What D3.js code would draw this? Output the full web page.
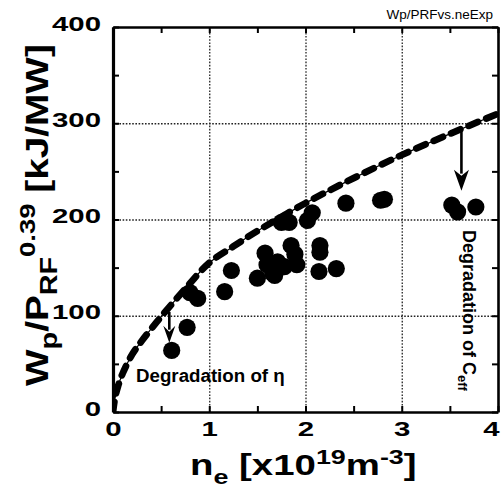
<!DOCTYPE html>
<html>
<head>
<meta charset="utf-8">
<script src="https://cdn.jsdelivr.net/npm/d3@7"></script>
<style>
  html, body { margin: 0; padding: 0; background: #fff; }
  svg { display: block; }
  text { font-family: "Liberation Sans", Arial, Helvetica, sans-serif; }
</style>
</head>
<body>
<svg id="chart" width="502" height="488"></svg>
<script>
// ---- data ----
const xTickValues = [0, 1, 2, 3, 4];
const yTickValues = [0, 100, 200, 300, 400];
const xMinorTicks = [0, 0.5, 1, 1.5, 2, 2.5, 3, 3.5, 4];
const yMinorTicks = [0, 50, 100, 150, 200, 250, 300, 350, 400];

// measured points: n_e [1e19 m^-3] and Wp/P_RF^0.39 [kJ/MW]
const neValues = [0.61, 0.77, 0.80, 0.88, 1.16, 1.23, 1.50, 1.58, 1.60, 1.66, 1.68, 1.71, 1.75, 1.78,
                  1.80, 1.83, 1.85, 1.89, 1.91, 2.02, 2.07, 2.15, 2.15, 2.14, 2.32, 2.42, 2.78, 2.82,
                  3.52, 3.58, 3.77];
const wpValues = [64, 88, 124, 118, 125, 147, 139, 165, 153, 144, 142, 156, 197, 151,
                  199, 197, 173, 164, 153, 199, 207, 173, 166, 146, 149, 217, 220, 221,
                  215, 208, 213];

// dashed reference curve
const fitNe = [0, 0.02, 0.05, 0.1, 0.2, 0.3, 0.5, 0.75, 1, 1.25, 1.5, 2, 2.5, 3, 3.5, 4];
const fitWp = [0, 14, 26, 40, 60, 74, 99, 128, 155, 172, 188, 217, 243, 267, 289, 310];

// arrows (start and end in data units)
const arrowNe = [0.585, 3.62];
const arrowFrom = [104, 295];
const arrowTo = [72, 230];

// ---- layout ----
const svg = d3.select("#chart");
const mLeft = 113, mRight = 498, mTop = 27, mBottom = 412;
const x = d3.scaleLinear().domain([0, 4]).range([mLeft, mRight]);
const y = d3.scaleLinear().domain([0, 400]).range([mBottom, mTop]);

svg.append("rect").attr("width", 502).attr("height", 488).attr("fill", "#fff");

// gridlines
const gridX = svg.append("g").attr("transform", `translate(0,${mBottom})`)
  .call(d3.axisBottom(x).tickValues([1, 2, 3]).tickSize(-(mBottom - mTop)).tickFormat(""));
gridX.select(".domain").remove();
gridX.selectAll("line").attr("stroke", "#222").attr("stroke-width", 1.3).attr("stroke-dasharray", "1.6,1.6");
const gridY = svg.append("g").attr("transform", `translate(${mLeft},0)`)
  .call(d3.axisLeft(y).tickValues([100, 200, 300]).tickSize(-(mRight - mLeft)).tickFormat(""));
gridY.select(".domain").remove();
gridY.selectAll("line").attr("stroke", "#222").attr("stroke-width", 1.3).attr("stroke-dasharray", "1.6,1.6");

// reference curve
const line = d3.line().x((d, i) => x(fitNe[i])).y((d, i) => y(fitWp[i])).curve(d3.curveCatmullRom.alpha(0.5));
svg.append("clipPath").attr("id", "plotclip").append("rect")
  .attr("x", mLeft).attr("y", mTop - 10).attr("width", mRight - mLeft + 4).attr("height", mBottom - mTop + 10);
svg.append("path").datum(fitWp).attr("d", line).attr("fill", "none")
  .attr("stroke", "#000").attr("stroke-width", 1.2).attr("clip-path", "url(#plotclip)");
svg.append("path").datum(fitWp).attr("d", line).attr("fill", "none")
  .attr("stroke", "#000").attr("stroke-width", 6.8).attr("stroke-linecap", "round")
  .attr("stroke-dasharray", "10,9").attr("clip-path", "url(#plotclip)");

// points
svg.append("g").selectAll("circle").data(neValues).join("circle")
  .attr("cx", d => x(d)).attr("cy", (d, i) => y(wpValues[i])).attr("r", 8.6).attr("fill", "#000");

// arrows
arrowNe.forEach((n, i) => {
  const ax = x(n), y0 = y(arrowFrom[i]), y1 = y(arrowTo[i]);
  const hl = i === 0 ? 17 : 21, hw = i === 0 ? 6 : 7.5;
  svg.append("line").attr("x1", ax).attr("x2", ax).attr("y1", y0).attr("y2", y1 - hl + 4)
    .attr("stroke", "#000").attr("stroke-width", 2.6);
  svg.append("path").attr("d", `M${ax},${y1} L${ax - hw},${y1 - hl} L${ax},${y1 - hl + 6} L${ax + hw},${y1 - hl} Z`)
    .attr("fill", "#000");
});

// ticks on all four sides (inward)
function tickAxis(axis, tr) {
  const g = svg.append("g").attr("transform", tr).call(axis);
  g.select(".domain").attr("stroke", "#000").attr("stroke-width", 2.6);
  g.selectAll(".tick line").attr("stroke", "#000").attr("stroke-width", 2);
  return g;
}
tickAxis(d3.axisBottom(x).tickValues(xMinorTicks).tickSizeInner(-6).tickSizeOuter(0).tickFormat(""), `translate(0,${mBottom})`);
tickAxis(d3.axisTop(x).tickValues(xMinorTicks).tickSizeInner(-6).tickSizeOuter(0).tickFormat(""), `translate(0,${mTop})`);
tickAxis(d3.axisRight(y).tickValues(yMinorTicks).tickSizeInner(-6).tickSizeOuter(0).tickFormat(""), `translate(${mRight},0)`);
const lAxis = tickAxis(d3.axisLeft(y).tickValues(yMinorTicks).tickSizeInner(-6).tickSizeOuter(0).tickFormat(""), `translate(${mLeft},0)`);
lAxis.select(".domain").attr("stroke-width", 3.2);

// tick labels
const xl = svg.append("g").attr("transform", `translate(0,${mBottom})`)
  .call(d3.axisBottom(x).tickValues(xTickValues).tickSize(0).tickFormat(d3.format("d")));
xl.select(".domain").remove();
xl.selectAll("text").attr("y", 0).attr("dy", null)
  .attr("transform", d => `translate(${d === 4 ? -7 : 0},24) scale(1.4,1)`)
  .attr("font-size", 21).attr("font-weight", "bold").attr("fill", "#000")
  .attr("font-family", "Liberation Sans, Arial, sans-serif");
const yl = svg.append("g").attr("transform", `translate(${mLeft},0)`)
  .call(d3.axisLeft(y).tickValues(yTickValues).tickSize(0).tickFormat(d3.format("d")));
yl.select(".domain").remove();
yl.selectAll("text").attr("x", 0).attr("dy", null)
  .attr("transform", "translate(-12,3) scale(1.4,1)")
  .attr("font-size", 21).attr("font-weight", "bold").attr("fill", "#000")
  .attr("font-family", "Liberation Sans, Arial, sans-serif");

// rich text helper
function richText(tx, ty, rot, s, size, weight, parts, anchor) {
  const t = svg.append("text")
    .attr("transform", `translate(${tx},${ty}) rotate(${rot}) scale(${s},1)`)
    .attr("font-size", size).attr("font-weight", weight).attr("fill", "#000")
    .attr("text-anchor", anchor || "start");
  parts.forEach(p => {
    const sp = t.append("tspan").text(p.t);
    if (p.dy) sp.attr("dy", p.dy);
    if (p.fs) sp.attr("font-size", p.fs);
  });
  return t;
}

// x axis title
richText(190, 475, 0, 1.28, 30, "bold", [
  { t: "n" }, { t: "e", fs: 21, dy: 9 }, { t: " [x10", dy: -9 },
  { t: "19", fs: 21, dy: -11 }, { t: "m", dy: 11 }, { t: "-3", fs: 21, dy: -11 }, { t: "]", dy: 11 }
]);

// y axis title
richText(48, 386, -90, 1.25, 31, "bold", [
  { t: "W" }, { t: "p", fs: 23, dy: 9 }, { t: "/P", dy: -9 }, { t: "RF", fs: 23, dy: 9 },
  { t: "0.39", fs: 22, dy: -22 }, { t: " [kJ/MW]", dy: 13 }
]);

// annotations
richText(136, 382, 0, 1.04, 18, "bold", [{ t: "Degradation of η" }]);
richText(463, 230, 90, 1.0, 18, "bold", [{ t: "Degradation of C" }, { t: "eff", fs: 13, dy: 5 }]);

// corner label
richText(493, 19, 0, 1.0, 13.5, "normal", [{ t: "Wp/PRFvs.neExp" }], "end");
</script>
</body>
</html>
